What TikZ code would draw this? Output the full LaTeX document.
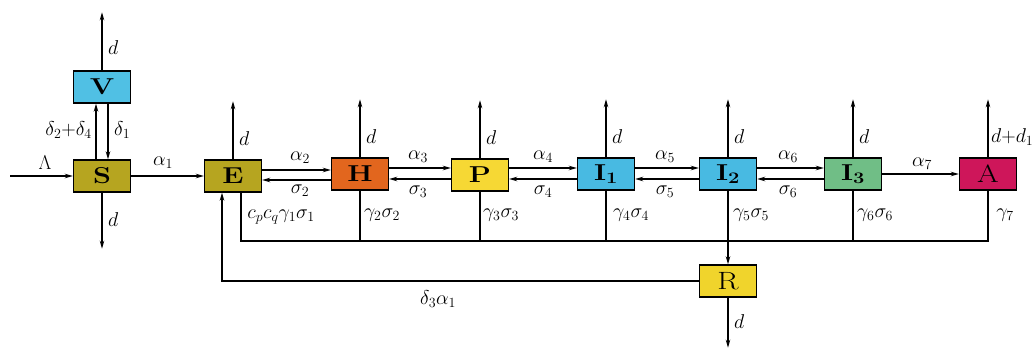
\RequirePackage{fix-cm}
\documentclass[tikz,border=0pt]{standalone}
\usetikzlibrary{arrows.meta,calc}
\definecolor{vblue}{RGB}{80,192,228}
\definecolor{olivebox}{RGB}{182,165,32}
\definecolor{horange}{RGB}{226,102,30}
\definecolor{pyellow}{RGB}{246,216,52}
\definecolor{iblue}{RGB}{72,186,226}
\definecolor{igreen}{RGB}{112,190,134}
\definecolor{acrimson}{RGB}{206,22,90}
\definecolor{ryellow}{RGB}{240,212,44}
% wide bold compartment letters
\newcommand\wideletter[1]{\scalebox{1.25}[1]{#1}}
\begin{document}
\begin{tikzpicture}[x=1pt,y=-1pt,
  box/.style={draw=black, line width=1.4pt, minimum width=57pt, minimum height=32pt,
    inner sep=0pt, font=\fontsize{23}{23}\selectfont\bfseries},
  plainbox/.style={box, font=\fontsize{25}{25}\selectfont},
  flow/.style={line width=1.3pt, -{Stealth[length=8pt,width=4.5pt]}},
  link/.style={line width=1.3pt},
  lab/.style={font=\fontsize{20}{20}\selectfont, inner sep=1pt}]
\useasboundingbox (0,0) rectangle (1033,350);

% compartments
\node[box, fill=vblue]    (V)  at (102,87)  {\wideletter{V}};
\node[box, fill=olivebox] (S)  at (102,176) {\wideletter{S}};
\node[box, fill=olivebox] (E)  at (233,176) {\wideletter{E}};
\node[box, fill=horange]  (H)  at (360,174) {\wideletter{H}};
\node[box, fill=pyellow]  (P)  at (480,175) {\wideletter{P}};
\node[box, fill=iblue]    (I1) at (606,174) {\wideletter{I$_{\mathbf{1}}$}};
\node[box, fill=iblue]    (I2) at (728,174) {\wideletter{I$_{\mathbf{2}}$}};
\node[box, fill=igreen]   (I3) at (853,174) {\wideletter{I$_{\mathbf{3}}$}};
\node[plainbox, fill=acrimson] (A) at (988,174) {\wideletter{A}};
\node[plainbox, fill=ryellow]  (R) at (728,281) {\wideletter{R}};

% recruitment and vaccination
\coordinate (in) at (10,176);
\draw[flow] (in) -- (S.west);
\draw[flow] (S.east) -- (E.west);
\draw[flow] ($(S.north)+(-6,0)$) -- ($(V.south)+(-6,0)$);
\draw[flow] ($(V.south)+(6,0)$) -- ($(S.north)+(6,0)$);

% natural deaths
\draw[flow] (V.north) -- ++(0,-58);
\draw[flow] (S.south) -- ++(0,56);
\foreach \n in {E,H,P,I1,I2,I3,A}
  \draw[flow] (\n.north) -- ++(0,-58);
\draw[flow] (R.south) -- ++(0,50);

% forward / backward transitions
\draw[flow] ($(E.east)+(0,-6)$) -- ($(H.west)+(0,-4)$);
\draw[flow] ($(H.west)+(0,6)$) -- ($(E.east)+(0,4)$);
\draw[flow] ($(H.east)+(0,-6)$) -- ($(P.west)+(0,-7)$);
\draw[flow] ($(P.west)+(0,4)$) -- ($(H.east)+(0,5)$);
\draw[flow] ($(P.east)+(0,-7)$) -- ($(I1.west)+(0,-6)$);
\draw[flow] ($(I1.west)+(0,5)$) -- ($(P.east)+(0,4)$);
\draw[flow] ($(I1.east)+(0,-6)$) -- ($(I2.west)+(0,-6)$);
\draw[flow] ($(I2.west)+(0,5)$) -- ($(I1.east)+(0,5)$);
\draw[flow] ($(I2.east)+(0,-6)$) -- ($(I3.west)+(0,-6)$);
\draw[flow] ($(I3.west)+(0,5)$) -- ($(I2.east)+(0,5)$);
\draw[flow] (I3.east) -- (A.west);

% recovery bus
\coordinate (bus) at (0,241);
\coordinate (Eout) at ($(E.south)+(8,0)$);
\draw[link] (Eout) -- (Eout |- bus) -- (A.south |- bus) -- (A.south);
\foreach \n in {H,P,I1,I3}
  \draw[link] (\n.south) -- (\n.south |- bus);
\draw[flow] (I2.south) -- (R.north);
\coordinate (Ein) at ($(E.south)+(-11,0)$);
\draw[flow] (R.west) -| (Ein);

% rate labels
\node[lab] (lLam) at (45,163) {$\Lambda$};
\node[lab] (la1) at (163,163) {$\alpha_1$};
\node[lab, anchor=east] (ld24) at (93,130) {$\delta_2{+}\delta_4$};
\node[lab, anchor=west] (ld1) at (113,130) {$\delta_1$};
\node[lab, anchor=west] (ldV) at (107,48) {$d$};
\node[lab, anchor=west] (ldS) at (107,220) {$d$};
\foreach \n in {E,H,P,I1,I2,I3}
  \node[lab, anchor=west] at ($(\n.north)+(5,-21)$) {$d$};
\node[lab, anchor=west, inner sep=0pt] (ldA) at (991,137) {$d{+}d_1$};
\node[lab, anchor=west] (ldR) at (733,322) {$d$};

\node[lab] (la2) at (300,158) {$\alpha_2$};
\node[lab] (ls2) at (300,191) {$\sigma_2$};
\node[lab] (la3) at (418,157) {$\alpha_3$};
\node[lab] (ls3) at (418,192) {$\sigma_3$};
\node[lab] (la4) at (543,157) {$\alpha_4$};
\node[lab] (ls4) at (543,192) {$\sigma_4$};
\node[lab] (la5) at (665,157) {$\alpha_5$};
\node[lab] (ls5) at (665,192) {$\sigma_5$};
\node[lab] (la6) at (788,157) {$\alpha_6$};
\node[lab] (ls6) at (788,192) {$\sigma_6$};
\node[lab] (la7) at (922,164) {$\alpha_7$};

\node[lab] (lg1) at (281,217) {$c_p c_q\gamma_1\sigma_1$};
\node[lab] (lg2) at (382,215) {$\gamma_2\sigma_2$};
\node[lab] (lg3) at (501,215) {$\gamma_3\sigma_3$};
\node[lab] (lg4) at (631,215) {$\gamma_4\sigma_4$};
\node[lab] (lg5) at (751,215) {$\gamma_5\sigma_5$};
\node[lab] (lg6) at (875,215) {$\gamma_6\sigma_6$};
\node[lab] (lg7) at (1005,215) {$\gamma_7$};
\node[lab] (ld3) at (438,299) {$\delta_3\alpha_1$};
\end{tikzpicture}
\end{document}
